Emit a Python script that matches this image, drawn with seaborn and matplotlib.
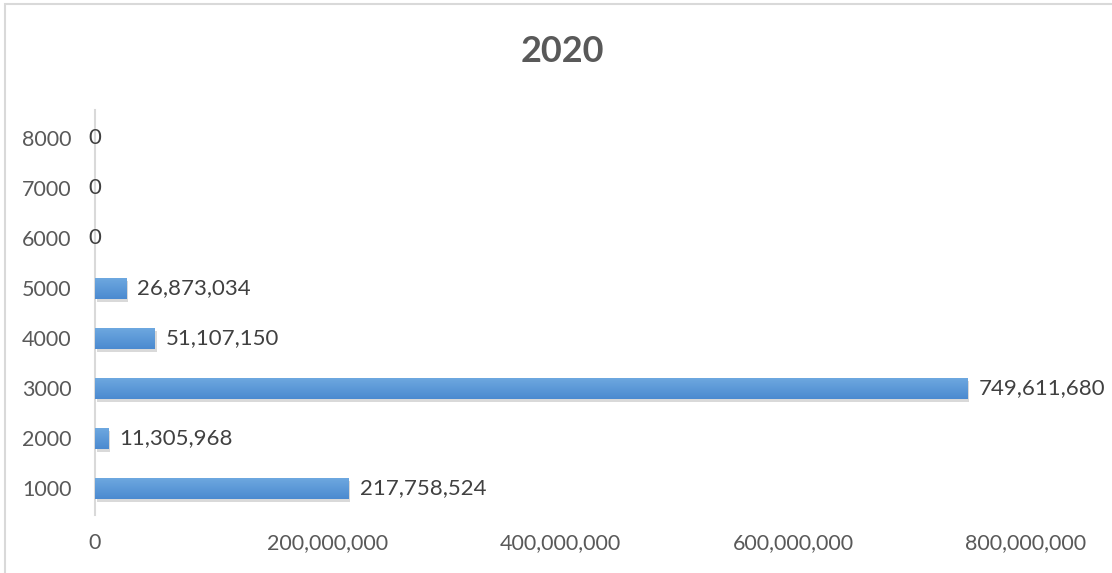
import numpy as np
import pandas as pd
import matplotlib
matplotlib.use("Agg")
import matplotlib.pyplot as plt
import matplotlib.patheffects as pe
from matplotlib.patches import Rectangle
from matplotlib.ticker import FuncFormatter
from matplotlib.colors import LinearSegmentedColormap
import seaborn as sns

# ---- data ----
categories = ["1000", "2000", "3000", "4000", "5000", "6000", "7000", "8000"]
values = [217758524, 11305968, 749611680, 51107150, 26873034, 0, 0, 0]
title = "2020"
x_ticks = [0, 200000000, 400000000, 600000000, 800000000]

sns.set_theme(style="white")
plt.rcParams["font.family"] = ["Lato", "DejaVu Sans"]

TXT = "#595959"
BAR = "#5b9bd5"

df = pd.DataFrame({"cat": categories, "val": values})
order = categories[::-1]  # 8000 at top

fig = plt.figure(figsize=(11.12, 5.73), dpi=100)
ax = fig.add_axes([95/1112, 1 - 515/573, (1026 - 95)/1112, (515 - 110)/573])

sns.barplot(data=df, y="cat", x="val", order=order, orient="h",
            color=BAR, width=0.42, ax=ax, saturation=1, edgecolor="none")

# gradient + soft shadow on bars
grad = np.linspace(0, 1, 64).reshape(-1, 1)
cmap = LinearSegmentedColormap.from_list("g", ["#6fa9e0", "#4b8ad0"])
for p in ax.patches:
    w = p.get_width()
    if w <= 0:
        continue
    p.set_path_effects([pe.SimplePatchShadow(offset=(1.5, -2.5), shadow_rgbFace="#000000", alpha=0.15),
                        pe.Normal()])
    x0, y0 = p.get_x(), p.get_y()
    h = p.get_height()
    im = ax.imshow(grad, cmap=cmap, aspect="auto",
                   extent=[x0, x0 + w, y0 + h, y0], origin="upper", zorder=p.get_zorder() + 0.1)
    im.set_clip_path(p)

ax.set_xlim(0, 800000000)
ax.set_ylim(len(order) - 0.5 + 0.03, -0.5 - 0.06)

# value labels
for i, cat in enumerate(order):
    v = df.loc[df.cat == cat, "val"].iloc[0]
    if v == 0:
        ax.annotate("0", (0, i), xytext=(0, 0), textcoords="offset points",
                    ha="center", va="center", fontsize=16, color="#404040")
    else:
        ax.annotate(f"{v:,}", (v, i), xytext=(8, 0), textcoords="offset points",
                    ha="left", va="center", fontsize=16, color="#404040")

ax.set_xticks(x_ticks)
ax.xaxis.set_major_formatter(FuncFormatter(lambda x, p: f"{int(x):,}"))
ax.tick_params(axis="both", length=0, labelsize=15.5, colors=TXT)
ax.tick_params(axis="x", pad=13)
ax.tick_params(axis="y", pad=17)
ax.set_xlabel("")
ax.set_ylabel("")
ax.grid(False)
for s in ["top", "right", "bottom"]:
    ax.spines[s].set_visible(False)
ax.spines["left"].set_color("#d9d9d9")
ax.spines["left"].set_linewidth(1.5)
ax.spines["left"].set_zorder(0.5)

fig.text(562/1112, 1 - 52/573, title, ha="center", va="center",
         fontsize=26, fontweight="bold", color=TXT)

# figure border
fig.patches.append(Rectangle((5/1112, -0.05), 1.2, 1 - 4/573 + 0.05,
                             transform=fig.transFigure, fill=False,
                             edgecolor="#d9d9d9", linewidth=1.5, zorder=0))

fig.savefig("out.png", dpi=100)
